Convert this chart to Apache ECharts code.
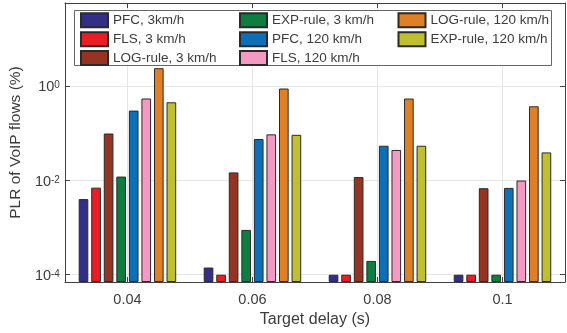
<!DOCTYPE html>
<html>
<head>
<meta charset="utf-8">
<script src="https://cdn.jsdelivr.net/npm/echarts@6/dist/echarts.min.js"></script>
<style>
html,body{margin:0;padding:0;background:#fff;}
#chart{width:567px;height:333px;}
</style>
</head>
<body>
<div id="chart"></div>
<script>
const categories = ['0.04', '0.06', '0.08', '0.1'];
const seriesNames = ['PFC, 3km/h', 'FLS, 3 km/h', 'LOG-rule, 3 km/h', 'EXP-rule, 3 km/h',
                     'PFC, 120 km/h', 'FLS, 120 km/h', 'LOG-rule, 120 km/h', 'EXP-rule, 120 km/h'];
const pfc3   = [0.0040, 1.42e-4, 1e-4, 1e-4];
const fls3   = [0.0070, 1e-4, 1e-4, 1e-4];
const log3   = [0.098, 0.0147, 0.0117, 0.0068];
const exp3   = [0.012, 8.9e-4, 1.96e-4, 1e-4];
const pfc120 = [0.30, 0.075, 0.054, 0.0069];
const fls120 = [0.54, 0.094, 0.044, 0.0099];
const log120 = [2.37, 0.88, 0.54, 0.37];
const exp120 = [0.45, 0.092, 0.054, 0.039];
const seriesValues = [pfc3, fls3, log3, exp3, pfc120, fls120, log120, exp120];
const colors = ['#332f86', '#ec1c24', '#963423', '#0e7d40', '#0d6fb8', '#f499c2', '#df7f26', '#bfbf30'];
const yTickExponents = [-4, -2, 0];

const yMin = Math.pow(10, -4.154);
const yMax = Math.pow(10, 1.756);
const FONT = 'Liberation Sans';
const TXT = '#3c3c3c';

const chart = echarts.init(document.getElementById('chart'), null, {renderer: 'canvas'});

function yLabel(v) {
  const e = Math.log10(v);
  const r = Math.round(e);
  if (Math.abs(e - r) > 1e-6 || yTickExponents.indexOf(r) < 0) return '';
  return '{b|10}{s|' + r + '}';
}

const series = seriesNames.map((name, i) => ({
  name: name,
  type: 'bar',
  data: seriesValues[i],
  barCategoryGap: '22%',
  barGap: '30%',
  itemStyle: {color: colors[i], borderColor: '#2a2a2a', borderWidth: 1},
  emphasis: {disabled: true}
}));

function legendCol(names, left) {
  return {
    orient: 'vertical', left: left, top: 12.3, padding: 0,
    itemWidth: 27, itemHeight: 14, itemGap: 2.9,
    icon: 'rect', z: 6,
    data: names,
    textStyle: {fontFamily: FONT, fontSize: 13.5, color: TXT, lineHeight: 14}
  };
}

const option = {
  animation: false,
  backgroundColor: '#fff',
  grid: {left: 64, right: 2, top: 3, bottom: 46, containLabel: false},
  legend: [
    legendCol(seriesNames.slice(0, 3), 80),
    legendCol(seriesNames.slice(3, 6), 239),
    legendCol(seriesNames.slice(6, 8), 397.5)
  ],
  graphic: [{
    type: 'rect', z: 5,
    shape: {x: 74.5, y: 10.5, width: 477, height: 55},
    style: {fill: '#fff', stroke: '#666', lineWidth: 1}
  }],
  xAxis: [{
    type: 'category', data: categories, position: 'bottom',
    name: 'Target delay (s)', nameLocation: 'middle', nameGap: 30,
    nameTextStyle: {fontFamily: FONT, fontSize: 16, color: TXT},
    axisLine: {lineStyle: {color: '#404040', width: 1}},
    axisTick: {show: true, inside: true, length: 5, alignWithLabel: true, lineStyle: {color: '#404040'}},
    axisLabel: {fontFamily: FONT, fontSize: 14.5, color: TXT, margin: 10},
    splitLine: {show: true, alignWithLabel: true, lineStyle: {color: '#e6e6e6', width: 1}}
  }, {
    type: 'category', data: categories, position: 'top',
    axisLine: {lineStyle: {color: '#404040', width: 1}},
    axisTick: {show: true, inside: true, length: 5, alignWithLabel: true, lineStyle: {color: '#404040'}},
    axisLabel: {show: false},
    splitLine: {show: false}
  }],
  yAxis: [{
    type: 'log', logBase: 100, min: yMin, max: yMax, startValue: yMin,
    name: 'PLR of VoIP flows (%)', nameLocation: 'middle', nameGap: 33,
    nameTextStyle: {fontFamily: FONT, fontSize: 15.5, color: TXT},
    axisLine: {show: true, lineStyle: {color: '#404040', width: 1}},
    axisTick: {show: true, inside: true, length: 5, lineStyle: {color: '#404040'}},
    axisLabel: {
      showMinLabel: false, showMaxLabel: false, margin: 5,
      formatter: yLabel,
      rich: {
        b: {fontFamily: FONT, fontSize: 14.5, color: TXT, lineHeight: 18, verticalAlign: 'bottom', padding: [6, 0, 0, 0]},
        s: {fontFamily: FONT, fontSize: 10, color: TXT, lineHeight: 10, verticalAlign: 'top', padding: [3.5, 0, 0, 0]}
      }
    },
    splitLine: {show: true, lineStyle: {color: '#e6e6e6', width: 1}}
  }, {
    type: 'log', logBase: 100, min: yMin, max: yMax, position: 'right',
    axisLine: {show: true, lineStyle: {color: '#404040', width: 1}},
    axisTick: {show: true, inside: true, length: 5, lineStyle: {color: '#404040'}},
    axisLabel: {show: false},
    splitLine: {show: false}
  }],
  series: series
};
chart.setOption(option);
</script>
</body>
</html>
